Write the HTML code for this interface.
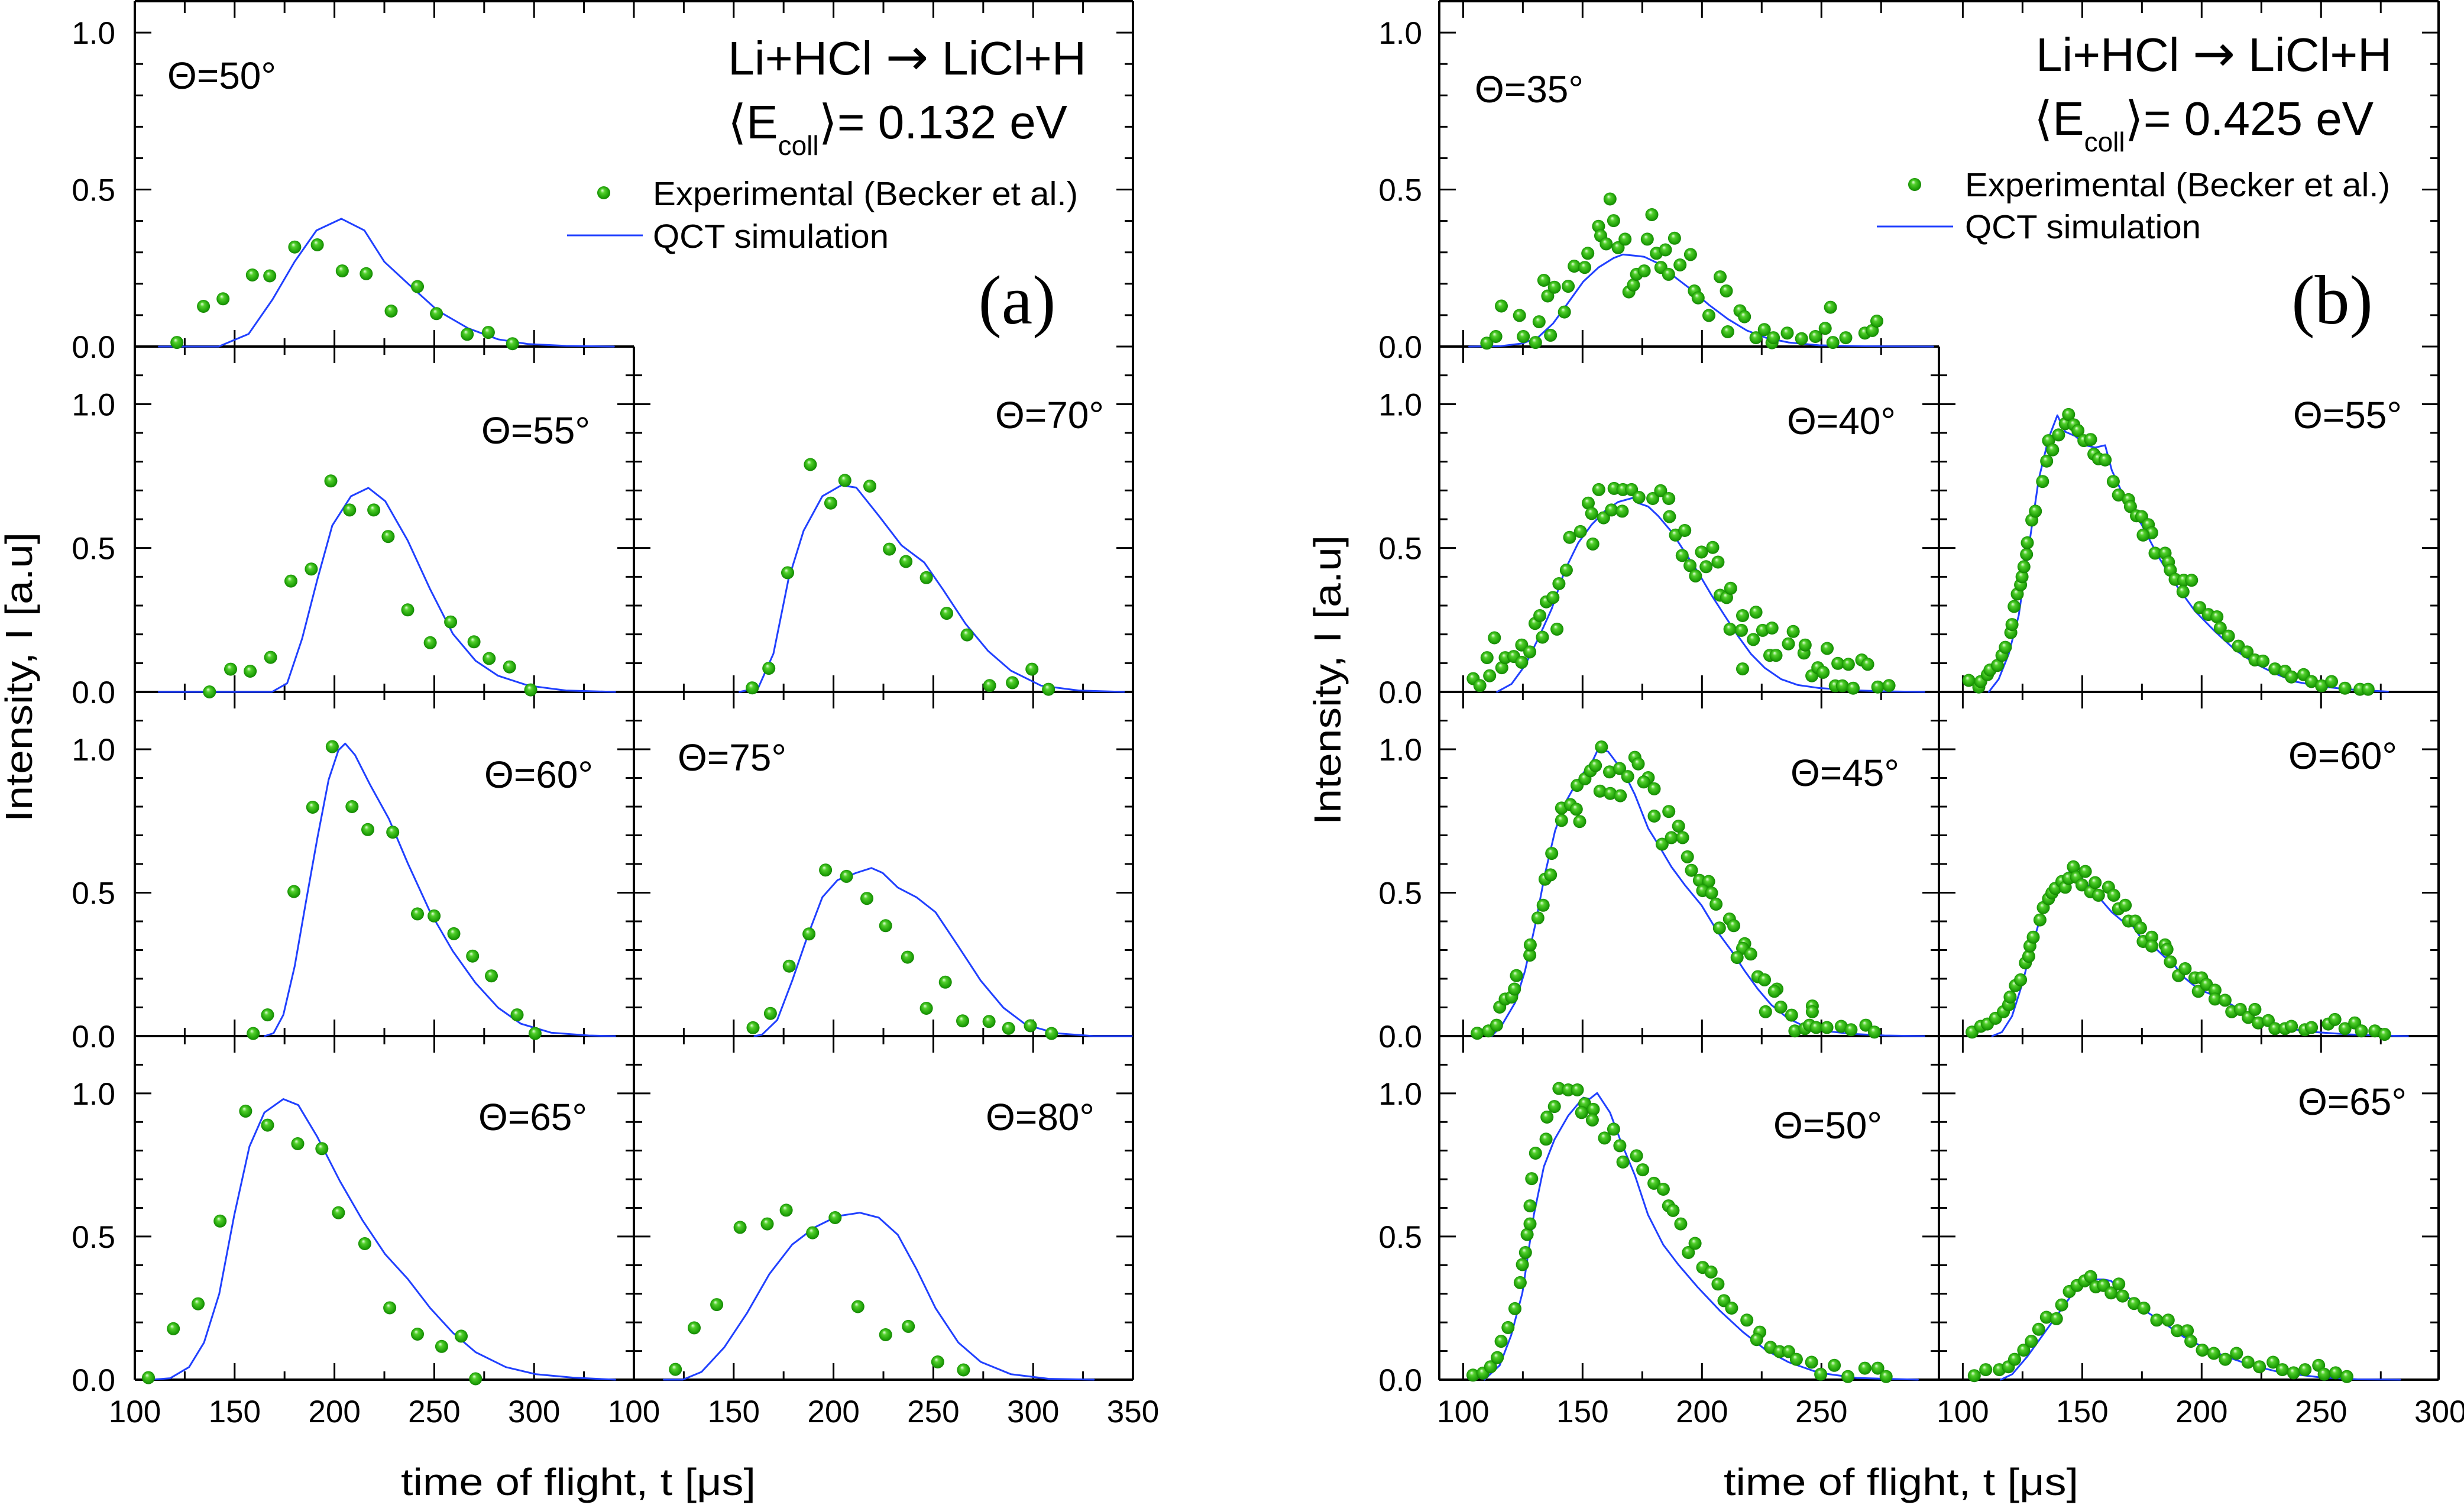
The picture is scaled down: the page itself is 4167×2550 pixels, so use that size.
<!DOCTYPE html>
<html><head><meta charset="utf-8"><title>Li+HCl time-of-flight</title>
<style>html,body{margin:0;padding:0;background:#fff}svg{display:block}text{font-family:"Liberation Sans",Arial,sans-serif;fill:#000}</style>
</head><body>
<svg id="chart" xmlns="http://www.w3.org/2000/svg" width="4167" height="2550" viewBox="0 0 4167 2550">
<defs>
<radialGradient id="ball" cx="0.5" cy="0.5" r="0.55" fx="0.38" fy="0.3">
<stop offset="0" stop-color="#e8ffe0"/><stop offset="0.3" stop-color="#52d02c"/><stop offset="0.8" stop-color="#1b9c05"/><stop offset="1" stop-color="#117000"/>
</radialGradient>
</defs>
<rect width="4167" height="2550" fill="#fff"/>
<g id="axes"></g>
<g id="series"></g>
<g id="labels">
<text x="1231" y="126" font-size="80" textLength="606" lengthAdjust="spacingAndGlyphs">Li+HCl <tspan style="font-family:'DejaVu Sans',sans-serif" font-size="86">→</tspan> LiCl+H</text>
<text x="1231" y="234" font-size="80">⟨E<tspan font-size="46" dy="28">coll</tspan><tspan dy="-28">⟩= 0.132 eV</tspan></text>
<circle cx="1021" cy="326" r="11" fill="url(#ball)"/>
<text x="1104" y="347" font-size="57" textLength="719" lengthAdjust="spacingAndGlyphs">Experimental (Becker et al.)</text>
<line x1="959" y1="398" x2="1087" y2="398" stroke="#2040ff" stroke-width="3"/>
<text x="1104" y="419" font-size="57" textLength="399" lengthAdjust="spacingAndGlyphs">QCT simulation</text>
<text x="1720" y="547" font-size="118" text-anchor="middle" style="font-family:'Liberation Serif',serif">(a)</text>

<text x="3443" y="120" font-size="80" textLength="602" lengthAdjust="spacingAndGlyphs">Li+HCl <tspan style="font-family:'DejaVu Sans',sans-serif" font-size="86">→</tspan> LiCl+H</text>
<text x="3440" y="228" font-size="80">⟨E<tspan font-size="46" dy="28">coll</tspan><tspan dy="-28">⟩= 0.425 eV</tspan></text>
<circle cx="3238" cy="312" r="11" fill="url(#ball)"/>
<text x="3323" y="332" font-size="57" textLength="719" lengthAdjust="spacingAndGlyphs">Experimental (Becker et al.)</text>
<line x1="3174" y1="383" x2="3303" y2="383" stroke="#2040ff" stroke-width="3"/>
<text x="3323" y="403" font-size="57" textLength="399" lengthAdjust="spacingAndGlyphs">QCT simulation</text>
<text x="3944" y="547" font-size="118" text-anchor="middle" style="font-family:'Liberation Serif',serif">(b)</text>

<text x="978" y="2528" font-size="64" text-anchor="middle" textLength="600" lengthAdjust="spacingAndGlyphs">time of flight, t [μs]</text>
<text x="3215" y="2528" font-size="64" text-anchor="middle" textLength="600" lengthAdjust="spacingAndGlyphs">time of flight, t [μs]</text>
<text transform="translate(54,1145) rotate(-90)" font-size="64" text-anchor="middle" textLength="490" lengthAdjust="spacingAndGlyphs">Intensity, I [a.u]</text>
<text transform="translate(2267,1150) rotate(-90)" font-size="64" text-anchor="middle" textLength="490" lengthAdjust="spacingAndGlyphs">Intensity, I [a.u]</text>
</g>
</svg>
<script>
// ---- Panel (a) data: [time µs, intensity] ----
const expA50=[[121.1,.013],[134.4,.128],[144.2,.152],[158.9,.228],[167.6,.225],[180.1,.317],[191.4,.324],[203.9,.241],[215.9,.232],[228.4,.113],[241.6,.191],[251.1,.105],[266.5,.039],[277.1,.045],[289.2,.009]];
const qctA50=[[112,0],[142,0],[157,.04],[169,.15],[180,.27],[191,.37],[203.5,.407],[215,.37],[225,.27],[238.6,.19],[251.8,.114],[267,.058],[282,.023],[297,.008],[316,.002],[340,0]];
const expA55=[[137.4,0],[148,.079],[157.8,.072],[168,.12],[178.2,.385],[188.4,.427],[198.2,.733],[207.6,.632],[219.7,.632],[226.9,.54],[236.7,.285],[248,.171],[258.2,.243],[269.9,.174],[277.5,.116],[287.7,.087],[298.3,.007]];
const qctA55=[[112,0],[168.7,0],[176.3,.03],[183.8,.185],[191.4,.39],[198.9,.578],[208.3,.68],[217,.709],[225.4,.663],[236.7,.526],[248,.356],[259.3,.202],[270.7,.108],[282,.056],[297.1,.022],[316,.005],[340.6,0]];
const expA70=[[159.3,.014],[167.6,.082],[177,.414],[188.4,.79],[198.6,.656],[205.7,.735],[218.2,.715],[228,.496],[236.3,.453],[246.5,.397],[256.7,.273],[266.9,.198],[278.2,.022],[289.6,.032],[299.4,.079],[307.7,.009]];
const qctA70=[[152.9,0],[162.3,.014],[169.9,.133],[177.4,.39],[185,.56],[194.4,.68],[203.9,.718],[211.4,.71],[222.7,.612],[234.1,.509],[245.4,.45],[254.8,.356],[266.2,.236],[277.5,.142],[288.8,.074],[303.9,.022],[322.8,.005],[345.5,0]];
const expA60=[[159.3,.009],[166.5,.074],[179.7,.504],[189.1,.798],[198.9,1.009],[208.8,.8],[216.7,.72],[229.2,.711],[241.6,.426],[249.9,.419],[259.8,.357],[269.2,.279],[278.6,.21],[291.5,.074],[300.5,.009]];
const qctA60=[[165,0],[169.5,.01],[174.4,.074],[180.1,.244],[185.7,.467],[191.4,.689],[197.1,.894],[202,.997],[205.4,1.02],[210.3,.98],[217.8,.877],[227.3,.757],[236.7,.603],[248,.432],[259.3,.296],[270.7,.185],[282,.099],[293.4,.043],[308.5,.012],[327.3,.002],[340.6,0]];
const expA75=[[159.7,.029],[168.4,.079],[177.8,.244],[187.7,.356],[196,.579],[206.5,.557],[216.7,.48],[226.1,.385],[237.1,.275],[246.5,.097],[256,.188],[264.7,.053],[277.9,.051],[287.7,.027],[298.6,.036],[309.2,.009]];
const qctA75=[[160.4,0],[164.2,.005],[171.8,.056],[179.3,.193],[186.9,.347],[194.4,.484],[202,.544],[211.4,.569],[219,.586],[224.6,.569],[232.2,.518],[241.6,.484],[251.1,.432],[262.5,.313],[273.8,.193],[285.1,.099],[296.5,.039],[311.6,.01],[330.4,0],[349.4,0]];
const expA65=[[106.8,.007],[119.3,.178],[131.7,.265],[142.7,.554],[155.5,.938],[166.5,.889],[181.6,.824],[193.7,.807],[202,.583],[215.2,.475],[227.7,.251],[241.6,.159],[253.7,.116],[263.5,.152],[270.7,.003]];
const qctA65=[[108.3,0],[117.7,.005],[127.2,.044],[134.7,.13],[142.3,.3],[149.8,.574],[157.4,.814],[164.9,.933],[174.4,.98],[181.9,.959],[191.4,.848],[202.7,.694],[214,.557],[225.4,.438],[236.7,.352],[248,.25],[259.3,.164],[270.7,.096],[285.8,.044],[300.9,.019],[319.8,.007],[340.6,0]];
const expA80=[[120.8,.036],[130.2,.181],[141.5,.262],[153.2,.532],[166.8,.544],[176.3,.592],[189.5,.513],[200.8,.566],[212.2,.255],[226.1,.157],[237.5,.186],[252.2,.062],[265.1,.034]];
const qctA80=[[115,0],[124.5,0],[133.9,.027],[145.3,.113],[156.6,.232],[167.9,.369],[179.3,.472],[190.6,.532],[201.9,.571],[213.2,.583],[222.7,.566],[232.2,.506],[241.6,.386],[251.1,.25],[262.5,.13],[273.8,.062],[288.9,.019],[307.7,.003],[330.4,0]];
// ---- Panel (b) data ----
const expB35=[[109.9,.011],[113.7,.032],[116,.129],[123.6,.099],[125.2,.032],[130.3,.013],[131.8,.079],[133.8,.211],[135.4,.161],[136.6,.036],[138.2,.189],[142.4,.11],[144,.192],[146.5,.256],[150.9,.252],[152.2,.297],[156.7,.383],[157.6,.353],[159.9,.327],[161.5,.47],[163,.401],[164.9,.315],[167.8,.342],[169.4,.174],[171.3,.196],[172.6,.23],[175.8,.241],[177.1,.342],[179,.42],[180.9,.297],[182.8,.252],[184.7,.308],[186,.23],[188.5,.345],[190.8,.26],[195.2,.293],[196.8,.177],[198.4,.155],[202.9,.099],[207.6,.222],[210.2,.177],[210.8,.047],[215.9,.114],[217.8,.095],[222.6,.028],[226.1,.054],[229.3,.012],[229.9,.028],[235.7,.043],[241.7,.025],[247.5,.032],[251.6,.058],[253.8,.125],[254.8,.013],[260.2,.028],[268.2,.043],[271.3,.051],[273.2,.081]];
const qctB35=[[102.5,0],[115.3,.001],[124.8,.01],[131.2,.028],[137.6,.073],[144,.14],[150.3,.207],[156.7,.252],[163,.282],[166.9,.293],[172.6,.289],[175.8,.286],[182.2,.263],[188.5,.222],[194.9,.185],[202.9,.133],[210.8,.088],[218.8,.051],[226.8,.028],[236.3,.013],[249,.004],[268.2,.001],[296.8,0]];
const expB40=[[104.2,.046],[107,.022],[111.1,.056],[110,.119],[113.1,.188],[116.2,.084],[117.6,.119],[121.2,.123],[124.5,.163],[124.5,.103],[127.9,.139],[130.1,.238],[132.1,.265],[133.2,.19],[134.8,.313],[137.6,.328],[139.3,.218],[140.1,.376],[143.2,.423],[144.6,.537],[149.1,.557],[152.4,.656],[153.8,.62],[154.3,.514],[156.8,.703],[158.8,.605],[162.1,.632],[163.2,.707],[166.6,.628],[166.9,.703],[170.5,.703],[173.6,.676],[179.4,.672],[182.7,.699],[186.1,.672],[186.4,.609],[188.9,.545],[192.8,.561],[191.7,.474],[195,.439],[197.3,.403],[199.8,.486],[201.7,.435],[204.5,.502],[206.7,.451],[207.6,.336],[210.3,.328],[212,.36],[211.7,.218],[216.5,.214],[217,.265],[221.5,.182],[222.6,.277],[225.4,.214],[228.4,.127],[229.3,.222],[231,.127],[217,.08],[236.2,.167],[238.2,.21],[242.7,.135],[243.2,.163],[246,.056],[248.5,.084],[250.7,.068],[252.4,.151],[255.8,.021],[256.9,.099],[258.8,.021],[261.3,.096],[263.3,.013],[266.9,.111],[269.4,.096],[273.6,.017],[278.3,.022]];
const qctB40=[[114.2,0],[120.3,.028],[125.9,.092],[131.5,.186],[137.1,.289],[142.6,.423],[148.2,.518],[153.8,.581],[159.3,.628],[164.9,.66],[171,.674],[173.3,.656],[177.5,.644],[181.6,.612],[187.2,.557],[192.8,.486],[198.4,.415],[204,.336],[209.5,.265],[215.1,.194],[220.6,.131],[226.2,.084],[233.2,.044],[240.1,.024],[248.5,.014],[262.4,.006],[276.4,.002],[293.1,0]];
const expB55=[[102.5,.04],[106.7,.017],[107.5,.036],[110.3,.06],[111.4,.076],[114.5,.092],[116.4,.127],[117.8,.155],[120.1,.206],[120.6,.234],[121.5,.297],[122.8,.34],[124.2,.372],[124.8,.4],[125.6,.435],[126.7,.478],[127,.518],[128.9,.597],[130.4,.628],[133.4,.731],[135.1,.802],[135.9,.873],[137.6,.841],[140.1,.893],[142.9,.932],[144.3,.964],[146.5,.928],[148.2,.908],[150.7,.873],[153.5,.877],[154.9,.826],[156.8,.81],[159.6,.806],[163,.731],[165.2,.684],[169.4,.668],[170.2,.644],[172.7,.612],[174.9,.609],[177.7,.581],[179.1,.553],[175.5,.545],[180.5,.482],[184.7,.482],[186.1,.451],[186.9,.423],[188.9,.391],[192.5,.388],[195.8,.388],[192.2,.348],[199.2,.293],[202.8,.269],[206.4,.261],[207.8,.222],[211.2,.194],[215.4,.159],[219,.139],[222.3,.111],[225.7,.107],[230.7,.08],[234.9,.072],[237.6,.052],[242.7,.06],[246,.036],[250.2,.021],[254.4,.036],[260,.013],[266.3,.009],[269.7,.009]];
const qctB55=[[110.9,0],[115,.044],[119.2,.131],[123.4,.265],[127.6,.502],[131.8,.739],[135.9,.881],[139.6,.961],[142.9,.904],[147.1,.889],[151.3,.857],[155.4,.849],[159.6,.857],[162.4,.77],[168,.668],[174.9,.581],[181.9,.47],[188.9,.376],[197.2,.281],[205.6,.21],[213.9,.147],[222.3,.099],[230.7,.064],[239,.036],[250.2,.019],[261.3,.009],[278,.001]];
const expB45=[[105.9,.01],[110.6,.018],[114,.038],[115.3,.101],[117.6,.129],[120.3,.136],[121.5,.164],[122.3,.211],[127.9,.282],[128.1,.318],[131.3,.412],[133.5,.456],[134.3,.547],[136.6,.562],[137.1,.637],[141.2,.752],[141.2,.795],[144.9,.807],[147.4,.791],[148.8,.748],[147.7,.874],[151,.897],[153.3,.925],[155.4,.943],[157.3,.854],[157.9,1.008],[161.3,.921],[161.6,.846],[165.5,.933],[165.8,.838],[168.9,.905],[171.9,.972],[173.3,.949],[177.5,.901],[175.6,.886],[180,.862],[180,.767],[186.1,.783],[183.3,.669],[187.2,.692],[190.2,.732],[191.9,.692],[193.9,.625],[195.6,.578],[198.9,.543],[202.8,.539],[200.3,.507],[204,.499],[205.9,.46],[211.5,.408],[207.3,.377],[213.3,.385],[217.9,.322],[217,.306],[220.4,.286],[214.7,.274],[223.4,.207],[226.2,.196],[231.4,.164],[230.3,.156],[226.6,.085],[233,.101],[237.5,.073],[246.2,.105],[246.2,.085],[238.9,.018],[243.1,.026],[245,.038],[247.8,.03],[252.3,.03],[258.3,.034],[262.4,.022],[268.6,.038],[272.2,.014]];
const qctB45=[[112,0],[116.2,.038],[121.8,.117],[125.9,.227],[130.1,.385],[134.3,.566],[138.5,.716],[142.6,.811],[146.8,.874],[151,.925],[154.3,.961],[156.5,1.0],[160.7,.992],[163.5,.961],[167.7,.913],[171.9,.842],[177.5,.724],[181.6,.669],[187.2,.59],[192.8,.527],[199.8,.456],[206.7,.361],[212.3,.298],[217.9,.227],[223.4,.164],[229,.109],[236,.062],[242.9,.034],[251.3,.018],[262.4,.008],[276.4,.002],[293.1,0]];
const expB60=[[103.9,.014],[107.5,.034],[110.3,.042],[113.7,.062],[117,.085],[119.2,.109],[119.8,.136],[122,.176],[124.2,.196],[126.2,.255],[127.6,.278],[128.1,.314],[129.5,.345],[132.3,.405],[133.7,.448],[135.9,.479],[137.3,.499],[138.7,.515],[141.5,.539],[142.9,.519],[144.3,.55],[146.3,.59],[147.6,.554],[149.9,.527],[151.3,.574],[153.5,.503],[155.4,.535],[156.8,.491],[161,.519],[163.2,.491],[165.2,.444],[168,.456],[169.4,.401],[172.2,.401],[174.4,.377],[175.5,.33],[179.1,.345],[179.1,.314],[184.7,.318],[185.5,.302],[186.9,.259],[190.3,.211],[193.1,.235],[197.2,.203],[200,.203],[198.6,.156],[202,.18],[205.6,.16],[205.6,.129],[209.8,.125],[212.6,.085],[216.2,.093],[219.5,.065],[222.3,.093],[223.7,.046],[227.9,.054],[230.7,.026],[234.9,.026],[237.6,.034],[243.2,.022],[246,.03],[253,.042],[255.8,.058],[260,.026],[264.1,.046],[266.9,.018],[272.5,.018],[276.6,.006]];
const qctB60=[[112.3,0],[116.4,.014],[120.6,.069],[124.8,.18],[129,.314],[133.2,.432],[137.3,.495],[141.5,.535],[145.7,.586],[149.9,.55],[154.1,.511],[158.2,.472],[162.4,.432],[168,.393],[169.4,.405],[175,.338],[177.7,.33],[184.7,.274],[186.1,.278],[191.7,.211],[198.6,.164],[205.6,.14],[212.6,.109],[219.5,.073],[227.9,.046],[236.3,.026],[247.4,.014],[261.3,.006],[275.3,.002],[286.4,0]];
const expB50=[[104.1,.016],[108.3,.023],[111.5,.045],[114.3,.077],[115.9,.134],[118.8,.182],[121.7,.248],[123.9,.339],[124.8,.402],[126.1,.444],[126.8,.507],[128,.544],[128,.607],[128.7,.702],[130.3,.791],[134.7,.84],[135.1,.917],[138.2,.954],[140.1,1.017],[144,1.012],[147.8,1.012],[150.9,.964],[149.6,.933],[154.5,.944],[154.1,.907],[159.2,.844],[163,.875],[165.6,.817],[166.9,.76],[172.6,.782],[175.2,.733],[179.9,.686],[183.8,.665],[186,.607],[187.9,.591],[191.1,.544],[194.3,.444],[197.1,.476],[200.3,.392],[203.8,.376],[206.7,.334],[209.2,.276],[212.4,.25],[218.8,.208],[224.2,.166],[222.9,.14],[228.7,.113],[232.5,.098],[236.3,.098],[239.5,.071],[245.9,.061],[249.7,.019],[255.4,.05],[261.1,.011],[268.2,.04],[273.6,.04],[277.1,.011]];
const qctB50=[[108.9,0],[115.3,.05],[120.1,.155],[124.8,.303],[129.6,.576],[133.8,.744],[138.2,.838],[144,.922],[150.3,.985],[152.9,.98],[156.1,1.001],[161.5,.933],[166.2,.828],[172,.712],[177.4,.576],[183.8,.471],[190.1,.402],[198.1,.324],[207.6,.24],[217.2,.166],[226.8,.103],[236.3,.061],[249,.024],[264.9,.006],[290.4,0]];
const expB65=[[104.8,.014],[109.6,.035],[115.3,.035],[119.1,.045],[121.7,.071],[125.5,.103],[128.7,.134],[131.8,.176],[135,.218],[139.2,.213],[141.4,.261],[144.6,.308],[147.8,.329],[151,.345],[153.5,.36],[155.7,.324],[158.9,.329],[162.1,.303],[165.3,.334],[166.9,.292],[171.7,.266],[175.8,.25],[181.2,.208],[186,.208],[189.8,.171],[194,.171],[195.5,.134],[200.3,.103],[205.1,.092],[209.9,.071],[214.6,.092],[219.4,.061],[224.2,.045],[229.9,.061],[233.8,.035],[238.5,.024],[243.3,.035],[249,.05],[251.3,.019],[256.1,.024],[260.8,.011]];
const qctB65=[[115.9,0],[120.7,.019],[127.1,.082],[133.4,.155],[139.8,.229],[146.2,.303],[152.5,.35],[158.9,.35],[162.1,.345],[168.5,.292],[176.4,.24],[184.4,.197],[192.4,.15],[201.9,.108],[211.5,.077],[221,.05],[233.8,.024],[249.7,.008],[265.6,.001],[283.1,0]];
// tick label values
const yTickLabels=[0,0.5,1.0];
const xTicksA0=[100,150,200,250,300];
const xTicksA1=[100,150,200,250,300,350];
const xTicksB0=[100,150,200,250];
const xTicksB1=[100,150,200,250,300];
const anglesA=['Θ=50°','Θ=55°','Θ=70°','Θ=60°','Θ=75°','Θ=65°','Θ=80°'];
const anglesB=['Θ=35°','Θ=40°','Θ=55°','Θ=45°','Θ=60°','Θ=50°','Θ=65°'];

const NS='http://www.w3.org/2000/svg';
const axesG=document.getElementById('axes'), serG=document.getElementById('series');
function mk(tag,attrs,parent){const e=document.createElementNS(NS,tag);for(const k in attrs)e.setAttribute(k,attrs[k]);(parent||axesG).appendChild(e);return e;}
const rows=[{top:2,bot:586,ymax:1.1},{top:586,bot:1170,ymax:1.2},{top:1170,bot:1752,ymax:1.2},{top:1752,bot:2333,ymax:1.2}];
const figs=[
 {id:'a',x0:228,w:844,xmin:100,xmax:350,labelRight:195,xTicks:[xTicksA0,xTicksA1],
  panels:[{c:0,r:0,exp:expA50,qct:qctA50},{c:0,r:1,exp:expA55,qct:qctA55},{c:1,r:1,exp:expA70,qct:qctA70},{c:0,r:2,exp:expA60,qct:qctA60},{c:1,r:2,exp:expA75,qct:qctA75},{c:0,r:3,exp:expA65,qct:qctA65},{c:1,r:3,exp:expA80,qct:qctA80}],
  angles:anglesA,anglePos:[[375,150],[906,750],[1775,724],[911,1332],[1238,1303],[901,1911],[1759,1911]]},
 {id:'b',x0:2434,w:845,xmin:90,xmax:299.2,labelRight:2405,xTicks:[xTicksB0,xTicksB1],
  panels:[{c:0,r:0,exp:expB35,qct:qctB35},{c:0,r:1,exp:expB40,qct:qctB40},{c:1,r:1,exp:expB55,qct:qctB55},{c:0,r:2,exp:expB45,qct:qctB45},{c:1,r:2,exp:expB60,qct:qctB60},{c:0,r:3,exp:expB50,qct:qctB50},{c:1,r:3,exp:expB65,qct:qctB65}],
  angles:anglesB,anglePos:[[2586,173],[3114,734],[3970,724],[3120,1329],[3962,1300],[3091,1925],[3978,1885]]}
];
const SW=4;
figs.forEach(f=>{
  const xL=f.x0, xM=f.x0+f.w, xR=f.x0+2*f.w;
  const sx=(c,t)=>f.x0+c*f.w+(t-f.xmin)/(f.xmax-f.xmin)*f.w;
  const sy=(r,v)=>rows[r].bot-v/rows[r].ymax*(rows[r].bot-rows[r].top);
  let e=mk('line',{x1:xL,y1:rows[0].top,x2:xL,y2:rows[3].bot,stroke:'#000','stroke-width':SW});
  
  
  e=mk('line',{x1:xR,y1:rows[0].top,x2:xR,y2:rows[3].bot,stroke:'#000','stroke-width':SW});
  
  
  e=mk('line',{x1:xL,y1:rows[0].top,x2:xR,y2:rows[0].top,stroke:'#000','stroke-width':SW});
  
  
  e=mk('line',{x1:xM,y1:rows[1].top,x2:xM,y2:rows[3].bot,stroke:'#000','stroke-width':SW});
  
  
  for(let c=0;c<2;c++){for(let t=100;t<=f.xmax+0.1;t+=25){const x=sx(c,t);if(x<=xL+2||x>=xR-2)continue;mk('line',{x1:x,y1:rows[0].top,x2:x,y2:rows[0].top+(t%50===0?28:20),stroke:'#000','stroke-width':3});}}
  rows.forEach((row,r)=>{
    const cols=r===0?[0]:[0,1];
    cols.forEach(c=>{
      const a=f.x0+c*f.w,b=a+f.w;
      const ax=mk('line',{x1:a,y1:row.bot,x2:b,y2:row.bot,stroke:'#000','stroke-width':SW});
      
      
      for(let t=100;t<=f.xmax+0.1;t+=25){const x=sx(c,t);if(x>=b-2)continue;const L=t%50===0?28:14;mk('line',{x1:x,y1:row.bot-L,x2:x,y2:row.bot+(r===3?0:L),stroke:'#000','stroke-width':3});}
    });
    for(let k=0;k<=Math.round(row.ymax*10);k++){
      const v=k/10,y=sy(r,v);if(y<=row.top+3&&r>0)continue;const maj=(k%5===0);const L=maj?28:14;
      mk('line',{x1:xL,y1:y,x2:xL+L,y2:y,stroke:'#000','stroke-width':3});
      mk('line',{x1:xR-L,y1:y,x2:xR,y2:y,stroke:'#000','stroke-width':3});
      if(r>0)mk('line',{x1:xM-L,y1:y,x2:xM+L,y2:y,stroke:'#000','stroke-width':3});
    }
    yTickLabels.forEach(v=>{
      const tx=mk('text',{x:f.labelRight,y:sy(r,v)+19,'font-size':53,'text-anchor':'end'});
      tx.textContent=v.toFixed(1);
      
      
    });
  });
  f.xTicks.forEach((arr,c)=>arr.forEach(t=>{
    const tx=mk('text',{x:sx(c,t),y:2405,'font-size':53,'text-anchor':'middle'});
    tx.textContent=t;
    
    
  }));
  f.panels.forEach((p,i)=>{
    const d=p.qct.map((q,j)=>(j?'L':'M')+sx(p.c,q[0]).toFixed(1)+','+sy(p.r,q[1]).toFixed(1)).join(' ');
    const path=mk('path',{d:d,fill:'none',stroke:'#2040ff','stroke-width':3,'stroke-linejoin':'round','stroke-linecap':'round'},serG);
    
    
    p.exp.forEach(q=>{
      const ci=mk('circle',{cx:sx(p.c,q[0]).toFixed(1),cy:sy(p.r,q[1]).toFixed(1),r:11,fill:'url(#ball)'},serG);
      
      
    });
    const lab=mk('text',{x:f.anglePos[i][0],y:f.anglePos[i][1],'font-size':64,'text-anchor':'middle'});
    lab.textContent=f.angles[i];
    
    
  });
});
</script>
</body></html>
